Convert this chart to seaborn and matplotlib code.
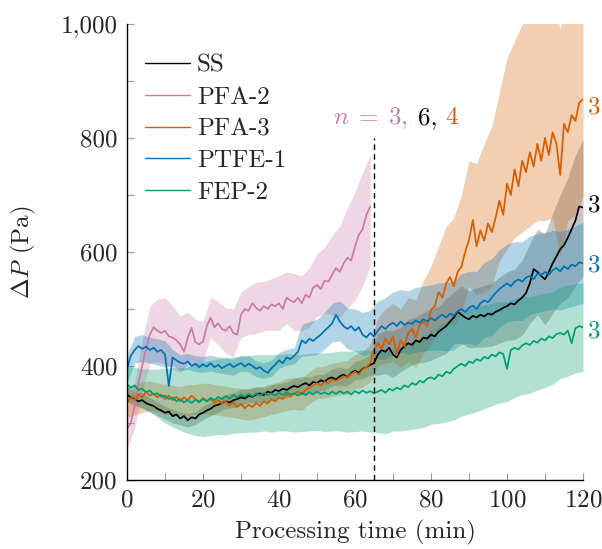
import numpy as np
import pandas as pd
import matplotlib
matplotlib.use("Agg")
import matplotlib.pyplot as plt
from matplotlib.ticker import MultipleLocator, FuncFormatter
import seaborn as sns

# ---------------- data ----------------
series_names = ["SS", "PFA-2", "PFA-3", "PTFE-1", "FEP-2"]
colors = {"SS": "#000000", "PFA-2": "#CC79A7", "PFA-3": "#D55E00",
          "PTFE-1": "#0072B2", "FEP-2": "#009E73"}
n_counts = {"SS": "3", "PFA-3": "3", "PTFE-1": "3", "FEP-2": "3"}
label_y = {"PFA-3": 854, "SS": 682, "PTFE-1": 577, "FEP-2": 460}

time_full = list(range(0, 121))
time_pfa2 = list(range(0, 65))
band_time_full = list(range(0, 121, 2))
band_time_pfa2 = list(range(0, 65, 2))

ss_mean = [350, 345, 342, 338, 340, 335, 332, 330, 325, 322, 318, 320, 312, 315, 308, 312, 305, 310, 308, 315,
           318, 322, 325, 330, 332, 335, 338, 336, 340, 342, 345, 343, 348, 346, 350, 352, 349, 355, 353, 358,
           356, 360, 358, 362, 365, 363, 367, 370, 366, 372, 370, 375, 372, 378, 380, 376, 382, 385, 380, 388,
           392, 388, 395, 398, 402, 405, 420, 428, 425, 432, 420, 415, 428, 435, 440, 437, 445, 442, 450, 448,
           455, 452, 460, 465, 470, 478, 485, 495, 490, 485, 482, 488, 485, 490, 487, 492, 490, 495, 498, 502,
           505, 510, 508, 515, 520, 528, 545, 570, 565, 558, 552, 565, 580, 592, 605, 612, 625, 640, 655, 680,
           678]
ss_lo = [336, 330, 327, 320, 313, 307, 300, 297, 293, 297, 306, 313, 319, 326, 327, 331, 336, 336, 336, 339,
         343, 344, 352, 352, 352, 355, 358, 365, 366, 365, 376, 378, 384, 384, 387, 380, 390, 398, 405, 406,
         410, 416, 422, 439, 440, 432, 433, 433, 435, 440, 445, 446, 454, 475, 490, 472, 492, 510, 520, 540,
         558]
ss_hi = [364, 354, 353, 344, 337, 329, 324, 319, 317, 319, 330, 337, 345, 350, 353, 359, 360, 364, 362, 367,
         369, 372, 378, 382, 380, 385, 386, 395, 398, 395, 408, 412, 420, 456, 463, 462, 467, 482, 486, 494,
         500, 504, 518, 530, 540, 532, 537, 541, 545, 556, 565, 570, 586, 615, 640, 632, 668, 700, 730, 770,
         798]

pfa2_mean = [290, 300, 330, 370, 400, 430, 455, 468, 462, 458, 462, 452, 450, 445, 438, 425, 450, 467, 442, 438,
             443, 470, 485, 468, 475, 465, 462, 470, 458, 455, 490, 500, 497, 510, 502, 497, 505, 500, 508, 505,
             510, 500, 520, 515, 512, 520, 510, 525, 520, 538, 542, 535, 550, 548, 560, 572, 565, 580, 590, 585,
             610, 630, 640, 665, 680]
pfa2_lo = [255, 290, 355, 405, 407, 404, 395, 388, 405, 402, 408, 450, 437, 422, 416, 450, 455, 457, 462, 463,
           462, 475, 462, 462, 468, 487, 492, 490, 485, 502, 515, 540, 575]
pfa2_hi = [325, 370, 445, 505, 517, 520, 505, 488, 495, 482, 478, 520, 513, 502, 500, 530, 539, 547, 548, 553,
           558, 565, 562, 558, 572, 597, 608, 630, 645, 678, 705, 740, 770]

pfa3_mean = [335, 345, 340, 350, 345, 355, 348, 352, 345, 350, 342, 348, 340, 346, 338, 345, 340, 348, 342, 336,
             344, 338, 342, 335, 340, 334, 338, 330, 336, 328, 334, 326, 332, 328, 335, 330, 338, 334, 342, 338,
             345, 342, 350, 346, 352, 355, 350, 358, 362, 366, 370, 366, 372, 370, 376, 374, 378, 382, 380, 386,
             390, 385, 394, 398, 405, 428, 440, 430, 448, 438, 452, 420, 445, 435, 458, 465, 450, 472, 478, 470,
             498, 505, 530, 520, 545, 556, 540, 565, 574, 600, 621, 656, 610, 638, 620, 650, 635, 660, 690, 665,
             720, 700, 745, 715, 760, 740, 775, 750, 790, 760, 800, 770, 810, 790, 735, 825, 810, 840, 830, 862,
             868]
pfa3_lo = [310, 314, 318, 322, 320, 316, 314, 312, 313, 316, 318, 315, 314, 311, 310, 307, 305, 308, 311, 315,
           318, 322, 324, 322, 334, 342, 344, 347, 349, 350, 360, 363, 372, 400, 405, 407, 398, 408, 398, 422,
           438, 465, 475, 468, 495, 540, 525, 530, 540, 585, 605, 625, 635, 645, 655, 655, 660, 590, 655, 665,
           698]
pfa3_hi = [362, 366, 372, 374, 370, 368, 366, 364, 367, 368, 370, 369, 366, 365, 362, 361, 359, 362, 365, 369,
           372, 378, 380, 378, 390, 398, 400, 405, 407, 410, 420, 425, 438, 485, 500, 510, 500, 520, 515, 550,
           575, 610, 645, 660, 700, 760, 755, 790, 820, 880, 940, 970, 1000, 1015, 1030, 1040, 1050, 990, 1060, 1080,
           1120]

ptfe1_mean = [395, 418, 428, 435, 430, 434, 428, 432, 425, 428, 420, 365, 415, 410, 406, 404, 408, 400, 404, 398,
              403, 399, 405, 398, 402, 396, 400, 404, 398, 402, 405, 399, 404, 400, 395, 398, 392, 388, 396, 402,
              410, 405, 415, 412, 418, 425, 445, 440, 448, 444, 450, 455, 462, 468, 475, 490, 478, 470, 465, 470,
              462, 468, 455, 450, 458, 452, 462, 470, 465, 472, 476, 470, 478, 472, 476, 474, 480, 476, 482, 478,
              484, 480, 486, 490, 485, 492, 488, 496, 500, 495, 502, 506, 500, 510, 515, 512, 520, 528, 535, 540,
              545, 540, 548, 552, 548, 555, 558, 552, 562, 560, 565, 560, 568, 572, 566, 575, 570, 578, 575, 582,
              580]
ptfe1_lo = [370, 405, 408, 405, 402, 398, 401, 392, 394, 390, 389, 391, 388, 386, 384, 391, 390, 381, 378, 382,
            396, 401, 404, 417, 418, 420, 430, 442, 444, 430, 426, 418, 420, 412, 412, 422, 424, 420, 424, 426,
            428, 428, 426, 428, 438, 440, 436, 450, 454, 468, 477, 480, 480, 490, 494, 497, 500, 498, 502, 506,
            510]
ptfe1_hi = [420, 452, 455, 450, 448, 444, 429, 420, 422, 418, 417, 419, 416, 414, 412, 419, 418, 409, 406, 410,
            424, 429, 432, 473, 478, 482, 494, 510, 514, 502, 500, 494, 498, 514, 520, 530, 534, 532, 538, 540,
            542, 546, 546, 550, 562, 566, 566, 582, 588, 604, 614, 618, 618, 628, 632, 634, 638, 636, 640, 646,
            652]

fep2_mean = [368, 362, 366, 358, 360, 354, 357, 350, 352, 346, 348, 342, 345, 338, 342, 336, 340, 335, 341, 337,
             342, 338, 344, 340, 346, 342, 347, 343, 349, 345, 350, 346, 351, 347, 352, 348, 353, 349, 352, 348,
             353, 349, 354, 350, 352, 348, 353, 349, 354, 350, 355, 351, 354, 350, 355, 351, 356, 352, 355, 350,
             356, 352, 357, 353, 356, 352, 355, 358, 353, 360, 357, 362, 359, 366, 363, 370, 367, 374, 371, 378,
             380, 377, 385, 382, 390, 387, 395, 400, 404, 400, 408, 405, 412, 409, 416, 413, 420, 417, 424, 421,
             395, 428, 432, 429, 436, 440, 437, 444, 441, 448, 445, 452, 449, 456, 458, 455, 462, 440, 466, 470,
             468]
fep2_lo = [338, 334, 325, 319, 310, 300, 293, 287, 282, 278, 276, 278, 280, 279, 282, 283, 284, 284, 286, 284,
           286, 286, 284, 285, 286, 287, 285, 286, 286, 284, 285, 286, 284, 283, 281, 286, 286, 288, 290, 292,
           298, 299, 302, 305, 312, 316, 320, 325, 330, 335, 338, 345, 350, 352, 358, 362, 368, 378, 382, 388,
           390]
fep2_hi = [398, 398, 395, 395, 394, 396, 397, 397, 398, 404, 408, 410, 412, 415, 416, 417, 418, 420, 420, 420,
           420, 422, 420, 421, 422, 423, 423, 424, 426, 426, 427, 428, 428, 427, 425, 428, 432, 438, 444, 450,
           462, 471, 478, 485, 496, 500, 504, 507, 510, 513, 512, 519, 522, 522, 524, 528, 530, 538, 542, 544,
           546]

series = {
    "SS": (time_full, ss_mean, band_time_full, ss_lo, ss_hi),
    "PFA-2": (time_pfa2, pfa2_mean, band_time_pfa2, pfa2_lo, pfa2_hi),
    "PFA-3": (time_full, pfa3_mean, band_time_full, pfa3_lo, pfa3_hi),
    "PTFE-1": (time_full, ptfe1_mean, band_time_full, ptfe1_lo, ptfe1_hi),
    "FEP-2": (time_full, fep2_mean, band_time_full, fep2_lo, fep2_hi),
}

# ---------------- style ----------------
sns.set_style("ticks")
plt.rcParams["font.family"] = ["cmr10", "DejaVu Serif"]
plt.rcParams["mathtext.fontset"] = "cm"
plt.rcParams["axes.unicode_minus"] = False
plt.rcParams["axes.formatter.use_mathtext"] = True
FS = 18

fig = plt.figure(figsize=(6.02, 5.49), dpi=100)
ax = fig.add_axes([127 / 602, 1 - 480 / 549, (583 - 127) / 602, (480 - 24) / 549])

for name in series_names:
    t, m, tb, lo, hi = series[name]
    c = colors[name]
    a = 0.22 if name == "SS" else 0.3
    ax.fill_between(tb, lo, hi, color=c, alpha=a, lw=0, zorder=1)
    df = pd.DataFrame({"t": t, "v": m})
    sns.lineplot(data=df, x="t", y="v", color=c, lw=1.25, ax=ax, label=name, zorder=2)

ax.vlines(65, 200, 800, colors="black", linestyles=(0, (4, 3)), lw=1.0, zorder=3)

ax.set_xlim(0, 120)
ax.set_ylim(200, 1000)
ax.xaxis.set_major_locator(MultipleLocator(20))
ax.xaxis.set_minor_locator(MultipleLocator(10))
ax.yaxis.set_major_locator(MultipleLocator(200))
ax.yaxis.set_minor_locator(MultipleLocator(100))
ax.yaxis.set_major_formatter(FuncFormatter(lambda v, p: f"{v:,.0f}"))
ax.tick_params(which="both", direction="in", length=5, width=0.8, color="#999999",
               labelsize=FS, pad=7)
sns.despine(ax=ax)
for s in ("left", "bottom"):
    ax.spines[s].set_linewidth(1.0)
    ax.spines[s].set_color("black")

ax.set_xlabel("Processing time (min)", fontsize=FS, labelpad=6)
ax.set_ylabel(r"$\Delta P$ (Pa)", fontsize=FS, labelpad=0)
ax.yaxis.set_label_coords(-0.195, 0.5)

leg = ax.legend(loc="upper left", bbox_to_anchor=(0.0, 0.972), frameon=False, fontsize=FS,
                handlelength=1.8, handletextpad=0.3, labelspacing=0.37, borderaxespad=0.3)
for h in leg.get_lines():
    h.set_linewidth(1.0)

# sample size annotations
ax.text(54.2, 835, r"$n \;=\; 3,$", color=colors["PFA-2"], fontsize=FS, va="center", ha="left")
ax.text(76.6, 835, "6,", color="black", fontsize=FS, va="center", ha="left")
ax.text(83.7, 835, "4", color=colors["PFA-3"], fontsize=FS, va="center", ha="left")
for name, yv in label_y.items():
    ax.text(121.3, yv, n_counts[name], color=colors[name], fontsize=FS, va="center", ha="left",
            clip_on=False)

fig.savefig("out.png", dpi=100)
